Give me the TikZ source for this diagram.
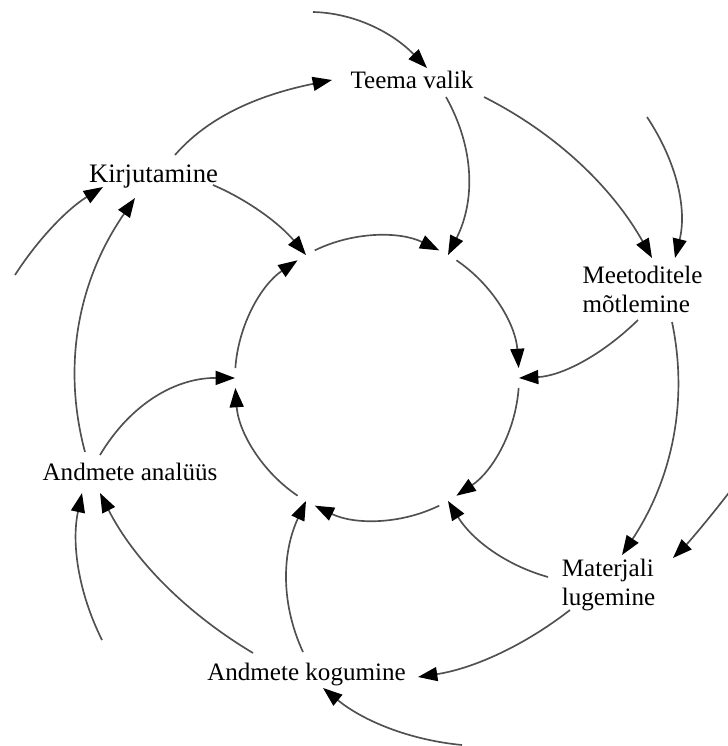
\documentclass[tikz,border=0pt]{standalone}
\usepackage{fontspec}
\setmainfont{Liberation Serif}
\usetikzlibrary{arrows.meta}
\definecolor{linkgray}{RGB}{80,80,80}
\begin{document}
\begin{tikzpicture}[x=0.75pt,y=-0.75pt,
  lbl/.style={inner sep=0pt, outer sep=0pt, text=black,
    font=\fontsize{18.8}{21.8}\selectfont},
  link/.style={draw=linkgray, line width=1.25pt,
    -{Triangle[length=14.5pt,width=10.5pt,color=black]}}]
\useasboundingbox (0,0) rectangle (728,746);
\clip (0,0) rectangle (728,746);

% stage labels
\node[lbl] (teema) at (412,79.5) {Teema valik};
\node[lbl, font=\fontsize{20}{24}\selectfont] (kirj) at (153.5,177) {Kirjutamine};
\node[lbl, align=left] (meet) at (642.5,289) {Meetoditele\\mõtlemine};
\node[lbl, align=left] (mat) at (608.5,585) {Materjali\\lugemine};
\node[lbl] (anal) at (130,471.5) {Andmete analüüs};
\node[lbl] (kog) at (306.5,675) {Andmete kogumine};

% inner cycle: centre and its six meeting points
\coordinate (ring) at (377,378);
\coordinate (p1) at ([shift={(-120:142)}]ring);
\coordinate (p2) at ([shift={(-60:142)}]ring);
\coordinate (p3) at ([shift={(0:142)}]ring);
\coordinate (p4) at ([shift={(60:142)}]ring);
\coordinate (p5) at ([shift={(120:142)}]ring);
\coordinate (p6) at ([shift={(180:142)}]ring);

% loose ends of the outer incoming arrows
\coordinate (fT) at (313,12);
\coordinate (fE) at (647,117);
\coordinate (fM) at (731,490);
\coordinate (fG) at (462,745);
\coordinate (fA) at (102,640);
\coordinate (fK) at (15,275);

% inner cycle arcs (clockwise)
\draw[link] ([shift={(-116:142)}]ring) arc[start angle=-116,end angle=-64,radius=142];
\draw[link] ([shift={(-56:142)}]ring) arc[start angle=-56,end angle=-4,radius=142];
\draw[link] ([shift={(4:142)}]ring) arc[start angle=4,end angle=56,radius=142];
\draw[link] ([shift={(64:142)}]ring) arc[start angle=64,end angle=116,radius=142];
\draw[link] ([shift={(124:142)}]ring) arc[start angle=124,end angle=176,radius=142];
\draw[link] ([shift={(184:142)}]ring) arc[start angle=184,end angle=236,radius=142];

% Teema valik
\draw[link] (fT) .. controls (354,13) and (392,32) .. ([shift={(15,-11.5)}]teema.center);
\draw[link] ([shift={(34,17.5)}]teema.center) .. controls (474.7,148.3) and (475.3,201) .. (p2);
\draw[link] ([shift={(72,17.5)}]teema.center) .. controls (556,133.3) and (612,187) .. ([shift={(9.5,-31)}]meet.center);

% Meetoditele mõtlemine
\draw[link] (fE) .. controls (677.7,163.3) and (687,210.3) .. ([shift={(32.5,-31)}]meet.center);
\draw[link] ([shift={(-4.5,31)}]meet.center) .. controls (600.3,356.7) and (560.7,376) .. (p3);
\draw[link] ([shift={(29.5,33)}]meet.center) .. controls (688.7,401.7) and (672,479.3) .. ([shift={(13.5,-30)}]mat.center);

% Materjali lugemine
\draw[link] (fM) .. controls (708,520) and (688,543) .. ([shift={(64.5,-27)}]mat.center);
\draw[link] ([shift={(-60.5,-8)}]mat.center) .. controls (505.3,565) and (472,539.7) .. (p4);
\draw[link] ([shift={(-38.5,25)}]mat.center) .. controls (523.3,646.3) and (472.7,668.7) .. ([shift={(111.5,2)}]kog.center);

% Andmete kogumine
\draw[link] (fG) .. controls (409.7,740) and (363.3,721) .. ([shift={(16.5,13)}]kog.center);
\draw[link] ([shift={(-3.5,-23)}]kog.center) .. controls (280.7,603.7) and (281.7,553.3) .. (p5);
\draw[link] ([shift={(-53.5,-22)}]kog.center) .. controls (184,611.7) and (133,558.3) .. ([shift={(-30,21.5)}]anal.center);

% Andmete analüüs
\draw[link] (fA) .. controls (78,591.7) and (71.3,542.7) .. ([shift={(-48,21.5)}]anal.center);
\draw[link] ([shift={(-30,-16.5)}]anal.center) .. controls (131,403.3) and (176,377.7) .. (p6);
\draw[link] ([shift={(-45,-19.5)}]anal.center) .. controls (61.7,364.7) and (78.3,280) .. ([shift={(-18.5,21)}]kirj.center);

% Kirjutamine
\draw[link] (fK) .. controls (39,237.7) and (68.3,208.3) .. ([shift={(-50.5,10)}]kirj.center);
\draw[link] ([shift={(59.5,8)}]kirj.center) .. controls (248.7,200.3) and (279.7,223.7) .. (p1);
\draw[link] ([shift={(21.5,-22)}]kirj.center) .. controls (214,110) and (273,92) .. ([shift={(-80,0.5)}]teema.center);
\end{tikzpicture}
\end{document}
